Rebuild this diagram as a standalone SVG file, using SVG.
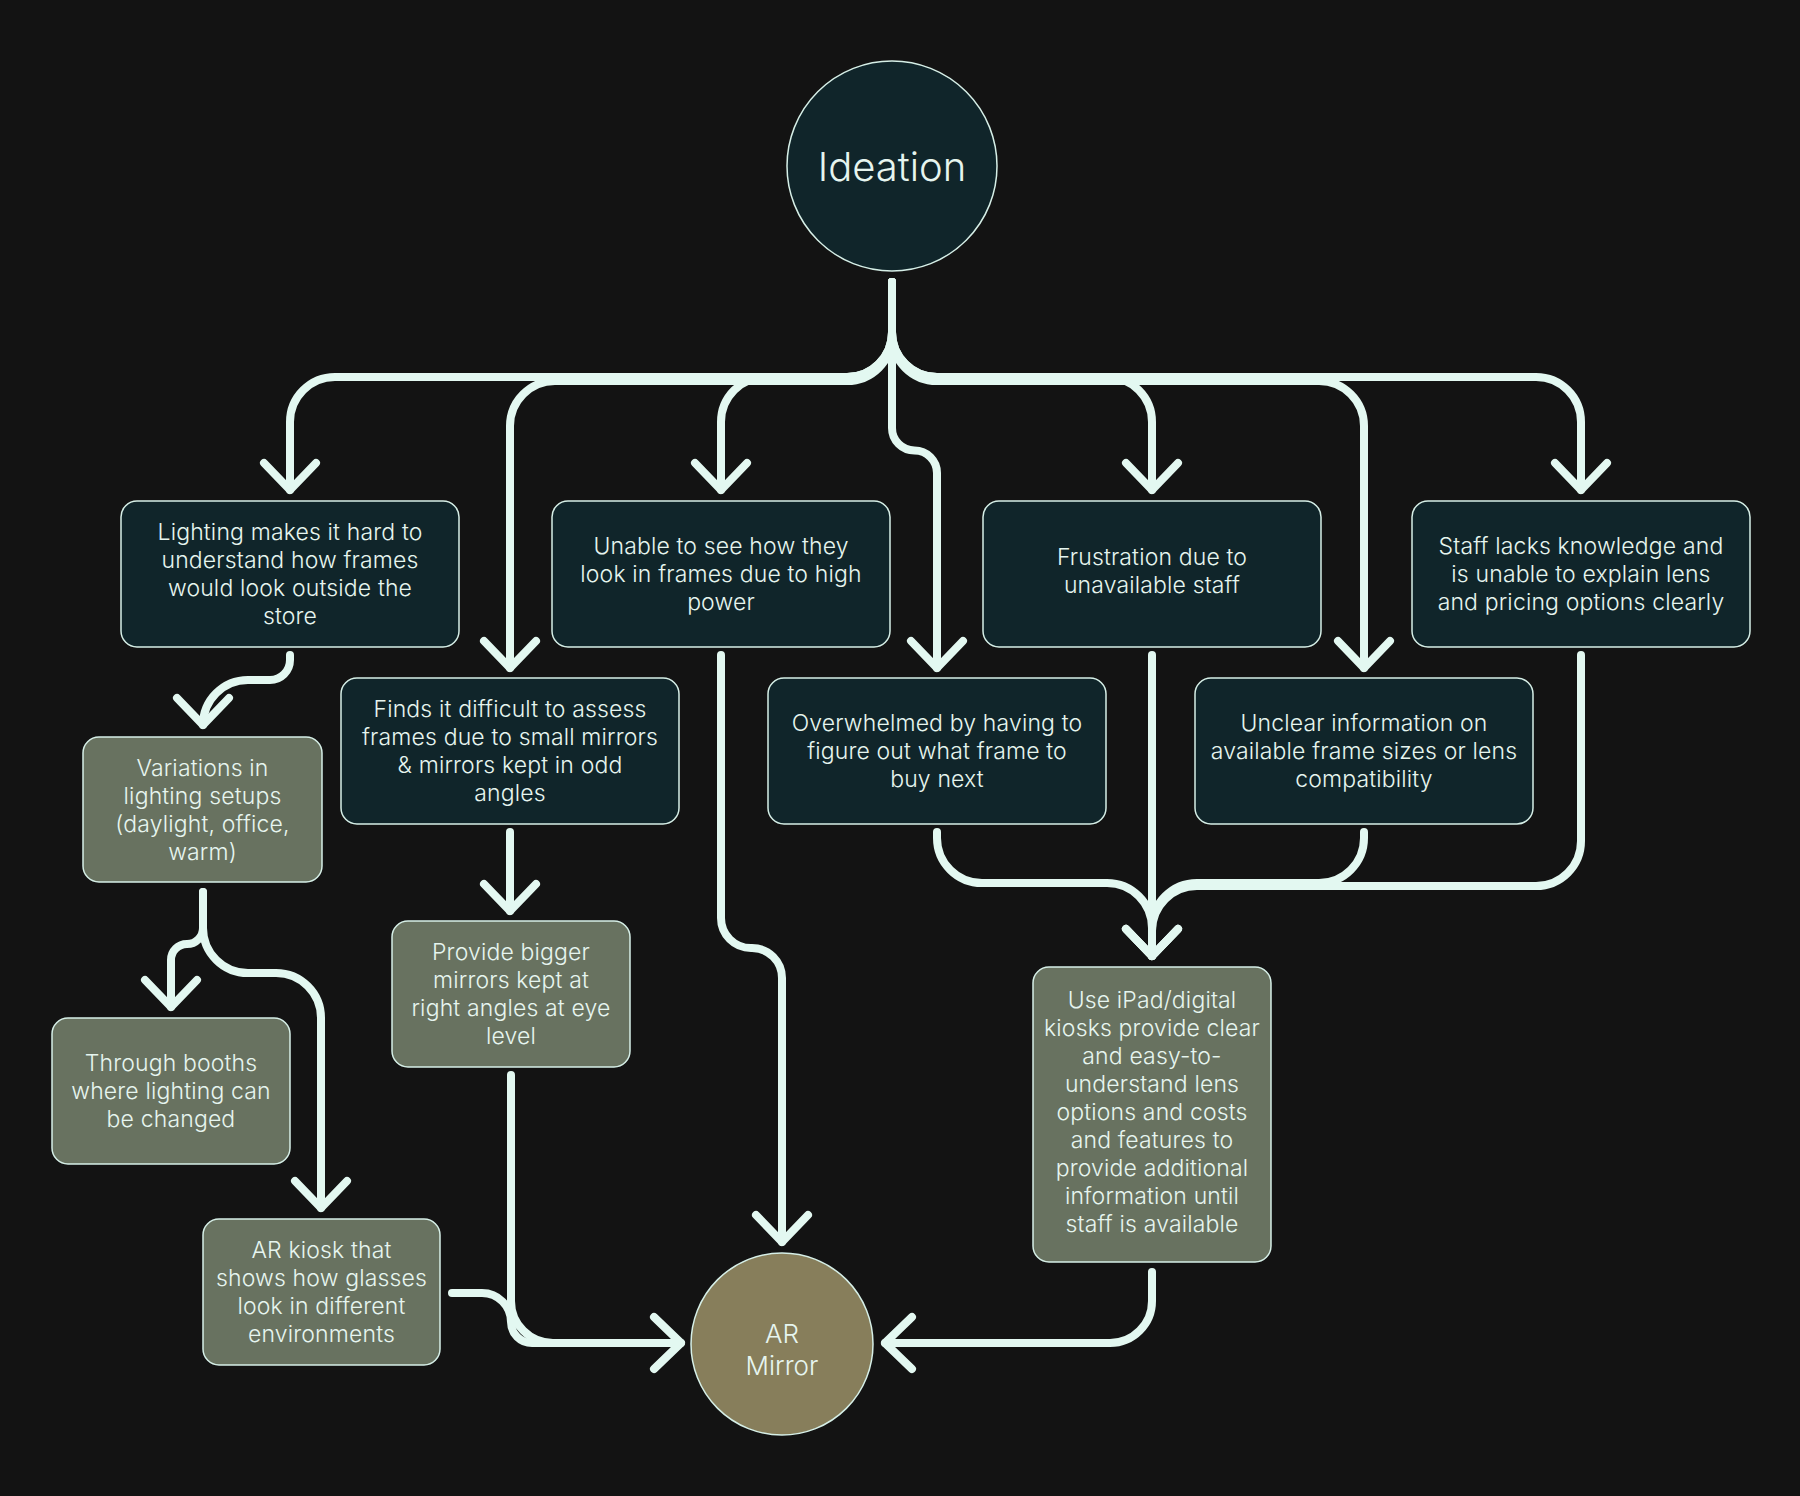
<svg xmlns="http://www.w3.org/2000/svg" width="1800" height="1496" viewBox="0 0 1800 1496">
<defs>
<style>
.bg{fill:#131313}
.dark{fill:#10252a;stroke:#d6efe7;stroke-width:1.5}
.green{fill:#687260;stroke:#d6efe7;stroke-width:1.5}
.mirror{fill:#877e5b;stroke:#d6efe7;stroke-width:1.5}
.t{font-family:Inter,"Noto Sans",sans-serif;font-size:23px;font-weight:300;letter-spacing:0.15px;fill:#e6f5ef;text-anchor:middle}
.big{font-size:40px;letter-spacing:0}
.mid{font-size:26px;letter-spacing:0}
.c{fill:none;stroke:#e3f8f1;stroke-width:8;stroke-linecap:round;stroke-linejoin:round}
</style>
<marker id="arr" viewBox="-40 -40 80 80" refX="0" refY="0" markerWidth="80" markerHeight="80" markerUnits="userSpaceOnUse" orient="auto" overflow="visible">
<path d="M-27,-26 L0,0 L-27,26" fill="none" stroke="#e3f8f1" stroke-width="8" stroke-linecap="round" stroke-linejoin="round"/>
</marker>
</defs>
<rect class="bg" x="0" y="0" width="1800" height="1496"/>

<g id="connectors">
<path class="c" marker-end="url(#arr)" d="M892,282 V332 A45,45 0 0 1 847,377 H335 A45,45 0 0 0 290,422 V490"/>
<path class="c" marker-end="url(#arr)" d="M892,282 V336 A45,45 0 0 1 847,381 H555 A45,45 0 0 0 510,426 V668"/>
<path class="c" marker-end="url(#arr)" d="M892,282 V332 A45,45 0 0 1 847,377 H766 A45,45 0 0 0 721,422 V490"/>
<path class="c" marker-end="url(#arr)" d="M892,282 V428 A22.5,22.5 0 0 0 914.5,450.5 A22.5,22.5 0 0 1 937,473 V668"/>
<path class="c" marker-end="url(#arr)" d="M892,282 V332 A45,45 0 0 0 937,377 H1107 A45,45 0 0 1 1152,422 V490"/>
<path class="c" marker-end="url(#arr)" d="M892,282 V336 A45,45 0 0 0 937,381 H1319 A45,45 0 0 1 1364,426 V668"/>
<path class="c" marker-end="url(#arr)" d="M892,282 V332 A45,45 0 0 0 937,377 H1536 A45,45 0 0 1 1581,422 V490"/>

<path class="c" marker-end="url(#arr)" d="M290,655 V660 A20,20 0 0 1 270,680 H248 A45,45 0 0 0 203,725"/>
<path class="c" marker-end="url(#arr)" d="M203,892 V928 A16,16 0 0 1 187,944 A16,16 0 0 0 171,960 V1007"/>
<path class="c" marker-end="url(#arr)" d="M203,892 V928 A45,45 0 0 0 248,973 H276 A45,45 0 0 1 321,1018 V1208"/>
<path class="c" marker-end="url(#arr)" d="M510,832 V911"/>
<path class="c" marker-end="url(#arr)" d="M511,1075 V1301 A42,42 0 0 0 553,1343 H681"/>
<path class="c" d="M452,1293 H482 A29,29 0 0 1 511,1322 A21,21 0 0 0 532,1343 H600"/>
<path class="c" marker-end="url(#arr)" d="M721,655 V918 A30,30 0 0 0 751,948 H752 A30,30 0 0 1 782,978 V1242"/>
<path class="c" marker-end="url(#arr)" d="M937,832 V838 A45,45 0 0 0 982,883 H1107 A45,45 0 0 1 1152,928 V956"/>
<path class="c" marker-end="url(#arr)" d="M1152,655 V956"/>
<path class="c" marker-end="url(#arr)" d="M1364,832 V838 A45,45 0 0 1 1319,883 H1197 A45,45 0 0 0 1152,928 V956"/>
<path class="c" d="M1581,655 V841 A45,45 0 0 1 1536,886 H1197 A45,45 0 0 0 1152,931 V956"/>
<path class="c" marker-end="url(#arr)" d="M1152,1272 V1301 A42,42 0 0 1 1110,1343 H885"/>
</g>

<g id="ideation">
<circle class="dark" cx="892" cy="166" r="105"/>
<text class="t big" x="892" y="181">Ideation</text>
</g>

<g id="n-lighting">
<rect class="dark" x="121" y="501" width="338" height="146" rx="16"/>
<text class="t" x="290" y="540">Lighting makes it hard to</text>
<text class="t" x="290" y="568">understand how frames</text>
<text class="t" x="290" y="596">would look outside the</text>
<text class="t" x="290" y="624">store</text>
</g>

<g id="n-unable">
<rect class="dark" x="552" y="501" width="338" height="146" rx="16"/>
<text class="t" x="721" y="554">Unable to see how they</text>
<text class="t" x="721" y="582">look in frames due to high</text>
<text class="t" x="721" y="610">power</text>
</g>

<g id="n-frustration">
<rect class="dark" x="983" y="501" width="338" height="146" rx="16"/>
<text class="t" x="1152" y="565">Frustration due to</text>
<text class="t" x="1152" y="593">unavailable staff</text>
</g>

<g id="n-staff">
<rect class="dark" x="1412" y="501" width="338" height="146" rx="16"/>
<text class="t" x="1581" y="554">Staff lacks knowledge and</text>
<text class="t" x="1581" y="582">is unable to explain lens</text>
<text class="t" x="1581" y="610">and pricing options clearly</text>
</g>

<g id="n-finds">
<rect class="dark" x="341" y="678" width="338" height="146" rx="16"/>
<text class="t" x="510" y="717">Finds it difficult to assess</text>
<text class="t" x="510" y="745">frames due to small mirrors</text>
<text class="t" x="510" y="773">&amp; mirrors kept in odd</text>
<text class="t" x="510" y="801">angles</text>
</g>

<g id="n-overwhelmed">
<rect class="dark" x="768" y="678" width="338" height="146" rx="16"/>
<text class="t" x="937" y="731">Overwhelmed by having to</text>
<text class="t" x="937" y="759">figure out what frame to</text>
<text class="t" x="937" y="787">buy next</text>
</g>

<g id="n-unclear">
<rect class="dark" x="1195" y="678" width="338" height="146" rx="16"/>
<text class="t" x="1364" y="731">Unclear information on</text>
<text class="t" x="1364" y="759">available frame sizes or lens</text>
<text class="t" x="1364" y="787">compatibility</text>
</g>

<g id="n-variations">
<rect class="green" x="83" y="737" width="239" height="145" rx="16"/>
<text class="t" x="202.5" y="775.5">Variations in</text>
<text class="t" x="202.5" y="803.5">lighting setups</text>
<text class="t" x="202.5" y="831.5">(daylight, office,</text>
<text class="t" x="202.5" y="859.5">warm)</text>
</g>

<g id="n-booths">
<rect class="green" x="52" y="1018" width="238" height="146" rx="16"/>
<text class="t" x="171" y="1071">Through booths</text>
<text class="t" x="171" y="1099">where lighting can</text>
<text class="t" x="171" y="1127">be changed</text>
</g>

<g id="n-kiosk">
<rect class="green" x="203" y="1219" width="237" height="146" rx="16"/>
<text class="t" x="321.5" y="1258">AR kiosk that</text>
<text class="t" x="321.5" y="1286">shows how glasses</text>
<text class="t" x="321.5" y="1314">look in different</text>
<text class="t" x="321.5" y="1342">environments</text>
</g>

<g id="n-provide">
<rect class="green" x="392" y="921" width="238" height="146" rx="16"/>
<text class="t" x="511" y="960">Provide bigger</text>
<text class="t" x="511" y="988">mirrors kept at</text>
<text class="t" x="511" y="1016">right angles at eye</text>
<text class="t" x="511" y="1044">level</text>
</g>

<g id="n-ipad">
<rect class="green" x="1033" y="967" width="238" height="295" rx="16"/>
<text class="t" x="1152" y="1008">Use iPad/digital</text>
<text class="t" x="1152" y="1036">kiosks provide clear</text>
<text class="t" x="1152" y="1064">and easy-to-</text>
<text class="t" x="1152" y="1092">understand lens</text>
<text class="t" x="1152" y="1120">options and costs</text>
<text class="t" x="1152" y="1148">and features to</text>
<text class="t" x="1152" y="1176">provide additional</text>
<text class="t" x="1152" y="1204">information until</text>
<text class="t" x="1152" y="1232">staff is available</text>
</g>

<g id="ar-mirror">
<circle class="mirror" cx="782" cy="1344" r="91"/>
<text class="t mid" x="782" y="1343">AR</text>
<text class="t mid" x="782" y="1375">Mirror</text>
</g>
</svg>
